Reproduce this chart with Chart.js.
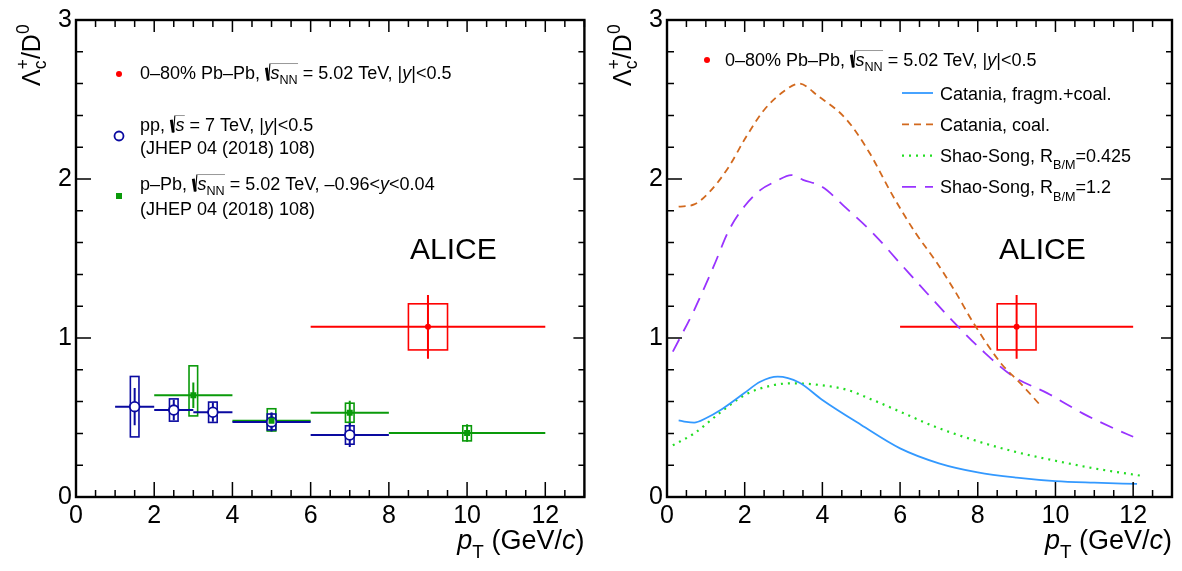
<!DOCTYPE html>
<html>
<head>
<meta charset="utf-8">
<script src="https://cdn.jsdelivr.net/npm/chart.js@4.4.1/dist/chart.umd.min.js"></script>
<style>
  body { margin: 0; background: #fff; }
  canvas { position: absolute; top: 0; }
  #left { left: 0; }
  #right { left: 591px; }
</style>
</head>
<body>
<canvas id="left" width="591" height="571"></canvas>
<canvas id="right" width="591" height="571"></canvas>
<script>
// axis tick labels
const xTicks = [0, 2, 4, 6, 8, 10, 12];
const yTicks = [0, 1, 2, 3];

// 0-80% Pb-Pb, 5.02 TeV
const pbpbX = [9];
const pbpbY = [1.07];
const pbpbXlo = [6];
const pbpbXhi = [12];
const pbpbStat = [0.2];
const pbpbSyst = [0.145];

// pp, 7 TeV (JHEP 04 (2018) 108)
const ppX = [1.5, 2.5, 3.5, 5, 7];
const ppY = [0.568, 0.547, 0.533, 0.472, 0.39];
const ppXlo = [1, 2, 3, 4, 6];
const ppXhi = [2, 3, 4, 6, 8];
const ppStat = [0.117, 0.065, 0.06, 0.06, 0.075];
const ppSyst = [0.19, 0.07, 0.064, 0.05, 0.058];

// p-Pb, 5.02 TeV
const ppbX = [3, 5, 7, 10];
const ppbY = [0.64, 0.48, 0.53, 0.403];
const ppbXlo = [2, 4, 6, 8];
const ppbXhi = [4, 6, 8, 12];
const ppbStat = [0.08, 0.05, 0.075, 0.055];
const ppbSystUp = [0.185, 0.075, 0.06, 0.045];
const ppbSystDn = [0.13, 0.065, 0.06, 0.05];

// model curves
const catFragX = [0.3, 0.5, 0.7, 1.0, 1.4, 2.0, 2.4, 2.85, 3.4, 4.0, 5.0, 6.0, 7.0, 8.0, 9.0, 10.0, 11.0, 12.1];
const catFragY = [0.482, 0.472, 0.468, 0.495, 0.55, 0.655, 0.725, 0.757, 0.72, 0.61, 0.453, 0.306, 0.212, 0.155, 0.122, 0.1, 0.09, 0.082];

const catCoalX = [0.3, 0.7, 1.1, 1.6, 2.0, 2.5, 3.0, 3.4, 3.9, 4.6, 5.2, 5.8, 6.4, 6.9, 7.4, 7.9, 8.6, 9.1, 9.6];
const catCoalY = [1.826, 1.84, 1.92, 2.08, 2.25, 2.434, 2.55, 2.6, 2.52, 2.38, 2.17, 1.9, 1.66, 1.49, 1.3, 1.09, 0.84, 0.715, 0.58];

const ssLowX = [0.15, 0.7, 1.4, 2.05, 2.75, 3.25, 3.95, 4.65, 5.3, 6.0, 6.9, 7.9, 8.95, 10.0, 11.0, 12.25];
const ssLowY = [0.325, 0.4, 0.537, 0.648, 0.704, 0.715, 0.704, 0.673, 0.61, 0.537, 0.442, 0.358, 0.285, 0.228, 0.18, 0.132];

const ssHighX = [0.15, 0.7, 1.2, 1.6, 2.0, 2.4, 2.8, 3.2, 3.5, 4.0, 4.6, 5.3, 6.0, 6.7, 7.5, 8.1, 8.9, 9.8, 10.7, 11.5, 12.0];
const ssHighY = [0.914, 1.176, 1.45, 1.68, 1.83, 1.93, 1.985, 2.025, 1.995, 1.95, 1.82, 1.66, 1.47, 1.28, 1.07, 0.925, 0.76, 0.652, 0.526, 0.432, 0.379];

const RED = '#ff0000';
const BLUE = '#0a0aa0';
const GREEN = '#0a9a0a';
const FONT = '"Liberation Sans", Arial, Helvetica, sans-serif';
const LEG = 18;

const pts = (xs, ys) => xs.map((x, i) => ({ x: x, y: ys[i] }));

// ---- rich text (sub/superscripts, sqrt) ----
function drawRich(ctx, parts, x, y, size, dry) {
  let cx = x, rootX = null, stackX = null, stackW = 0;
  ctx.save();
  ctx.fillStyle = '#000';
  ctx.strokeStyle = '#000';
  ctx.textBaseline = 'alphabetic';
  ctx.textAlign = 'left';
  for (const p of parts) {
    if (p.root) {
      if (!dry) {
        ctx.lineWidth = size * 0.16;
        ctx.beginPath();
        ctx.moveTo(cx + size * 0.07, y - size * 0.62);
        ctx.lineTo(cx + size * 0.18, y + size * 0.08);
        ctx.stroke();
        ctx.lineWidth = size * 0.06;
        ctx.beginPath();
        ctx.moveTo(cx + size * 0.19, y + size * 0.08);
        ctx.lineTo(cx + size * 0.27, y - size * 0.86);
        ctx.stroke();
      }
      cx += size * 0.3;
      rootX = cx;
      continue;
    }
    if (p.rootEnd) {
      if (!dry) {
        ctx.lineWidth = 1;
        ctx.strokeStyle = '#999';
        ctx.beginPath();
        ctx.moveTo(rootX - size * 0.03, y - size * 0.86);
        ctx.lineTo(cx + size * 0.02, y - size * 0.86);
        ctx.stroke();
        ctx.strokeStyle = '#000';
      }
      continue;
    }
    let s = size, dy = 0;
    if (p.sub) { s = size * 0.7; dy = size * (p.low || 0.25); }
    if (p.sup) { s = size * 0.7; dy = -size * 0.45; }
    ctx.font = (p.i ? 'italic ' : '') + s + 'px ' + FONT;
    const w = ctx.measureText(p.t).width;
    let drawX = cx;
    if (stackX !== null) drawX = stackX;
    if (!dry) ctx.fillText(p.t, drawX, y + dy);
    if (p.stack) { stackX = cx; stackW = w; continue; }
    if (stackX !== null) { cx = stackX + Math.max(w, stackW); stackX = null; }
    else cx += w;
  }
  ctx.restore();
  return cx - x;
}

const T = (t, o) => Object.assign({ t: t }, o || {});
const sqrtS = (nn) => nn
  ? [{ root: true }, T('s', { i: 1 }), T('NN', { sub: 1 }), { rootEnd: true }]
  : [{ root: true }, T('s', { i: 1 }), { rootEnd: true }];

const pbpbText = [T('0–80% Pb–Pb, ')].concat(sqrtS(true), [T(' = 5.02 TeV, |'), T('y', { i: 1 }), T('|<0.5')]);
const ppText = [T('pp, ')].concat(sqrtS(false), [T(' = 7 TeV, |'), T('y', { i: 1 }), T('|<0.5')]);
const ppbText = [T('p–Pb, ')].concat(sqrtS(true), [T(' = 5.02 TeV, –0.96<'), T('y', { i: 1 }), T('<0.04')]);
const refText = [T('(JHEP 04 (2018) 108)')];
const yTitle = [T('Λ'), T('c', { sub: 1, stack: 1, low: 0.22 }), T('+', { sup: 1 }), T('/D'), T('0', { sup: 1 })];
const xTitle = [T('p', { i: 1 }), T('T', { sub: 1, low: 0.35 }), T(' (GeV/'), T('c', { i: 1 }), T(')')];

// ---- markers ----
function marker(ctx, kind, x, y) {
  ctx.save();
  if (kind === 'pbpb') {
    ctx.fillStyle = RED;
    ctx.beginPath(); ctx.arc(x, y, 3, 0, 2 * Math.PI); ctx.fill();
  } else if (kind === 'pp') {
    ctx.fillStyle = '#fff'; ctx.strokeStyle = BLUE; ctx.lineWidth = 1.8;
    ctx.beginPath(); ctx.arc(x, y, 4.5, 0, 2 * Math.PI); ctx.fill(); ctx.stroke();
  } else {
    ctx.fillStyle = GREEN;
    ctx.fillRect(x - 3, y - 3, 6, 6);
  }
  ctx.restore();
}

// ---- error bars and systematic boxes ----
const errorBars = {
  id: 'errorBars',
  beforeDatasetsDraw(chart) {
    const { ctx, scales: { x, y } } = chart;
    chart.data.datasets.forEach(ds => {
      const e = ds.errors;
      if (!e) return;
      ctx.save();
      ctx.strokeStyle = ds.borderColor;
      ds.data.forEach((p, i) => {
        const px = x.getPixelForValue(p.x), py = y.getPixelForValue(p.y);
        const bx0 = x.getPixelForValue(p.x - e.boxHalf), bx1 = x.getPixelForValue(p.x + e.boxHalf);
        const by0 = y.getPixelForValue(p.y + e.systUp[i]), by1 = y.getPixelForValue(p.y - e.systDn[i]);
        ctx.lineWidth = 1.6;
        ctx.strokeRect(bx0, by0, bx1 - bx0, by1 - by0);
        ctx.lineWidth = 2;
        ctx.beginPath();
        ctx.moveTo(x.getPixelForValue(e.xlo[i]), py);
        ctx.lineTo(x.getPixelForValue(e.xhi[i]), py);
        ctx.moveTo(px, y.getPixelForValue(p.y + e.stat[i]));
        ctx.lineTo(px, y.getPixelForValue(p.y - e.stat[i]));
        ctx.stroke();
      });
      ctx.restore();
    });
  }
};

// ---- frame, ticks on all sides, titles, legend ----
const decor = {
  id: 'decor',
  afterDraw(chart, args, opts) {
    const { ctx, chartArea: a, scales: { x, y } } = chart;
    ctx.save();
    ctx.strokeStyle = '#000';
    ctx.lineWidth = 1.5;
    ctx.beginPath();
    for (let v = 0; v <= 13.001; v += 0.5) {
      const px = x.getPixelForValue(v);
      const major = Math.abs(v / 2 - Math.round(v / 2)) < 1e-6;
      ctx.moveTo(px, a.bottom); ctx.lineTo(px, a.bottom - (major ? 15 : 7));
      ctx.moveTo(px, a.top); ctx.lineTo(px, a.top + (major ? 12 : 7));
    }
    for (let v = 0; v <= 3.001; v += 0.2) {
      const py = y.getPixelForValue(v);
      const major = Math.abs(v - Math.round(v)) < 1e-6;
      ctx.moveTo(a.left, py); ctx.lineTo(a.left + (major ? 15 : 7), py);
      ctx.moveTo(a.right, py); ctx.lineTo(a.right - (major ? 11 : 6), py);
    }
    ctx.stroke();
    ctx.lineWidth = 2.4;
    ctx.strokeRect(a.left, a.top, a.right - a.left, a.bottom - a.top);
    ctx.restore();

    // axis titles
    ctx.save();
    ctx.translate(40, 86);
    ctx.rotate(-Math.PI / 2);
    drawRich(ctx, yTitle, 0, 0, 25);
    ctx.restore();
    const w = drawRich(ctx, xTitle, 0, 0, 27, true);
    drawRich(ctx, xTitle, a.right - w, 549, 27);

    // ALICE
    ctx.save();
    ctx.font = '30px ' + FONT;
    ctx.fillStyle = '#000';
    ctx.fillText('ALICE', opts.alice[0], opts.alice[1]);
    ctx.restore();

    opts.legend(ctx, chart);
  }
};

function makeScales() {
  return {
    x: {
      type: 'linear', min: 0, max: 13,
      afterBuildTicks: s => { s.ticks = xTicks.map(v => ({ value: v })); },
      afterFit: s => { s.height = 74; },
      ticks: { font: { family: FONT, size: 25 }, color: '#000', padding: 4, maxRotation: 0, autoSkip: false },
      grid: { display: false, drawTicks: false },
      border: { display: false }
    },
    y: {
      type: 'linear', min: 0, max: 3,
      afterBuildTicks: s => { s.ticks = yTicks.map(v => ({ value: v })); },
      afterFit: s => { s.width = 76; },
      ticks: { font: { family: FONT, size: 25 }, color: '#000', padding: 4 },
      grid: { display: false, drawTicks: false },
      border: { display: false }
    }
  };
}

const pbpbSet = {
  label: 'Pb-Pb', data: pts(pbpbX, pbpbY),
  pointStyle: 'circle', pointRadius: 3, backgroundColor: RED, borderColor: RED, pointBorderWidth: 0,
  errors: { xlo: pbpbXlo, xhi: pbpbXhi, stat: pbpbStat, systUp: pbpbSyst, systDn: pbpbSyst, boxHalf: 0.5 }
};

// left panel: data
new Chart(document.getElementById('left'), {
  type: 'scatter',
  data: {
    datasets: [
      Object.assign({}, pbpbSet),
      {
        label: 'p-Pb', data: pts(ppbX, ppbY),
        pointStyle: 'rect', pointRadius: 4.2, backgroundColor: GREEN, borderColor: GREEN, pointBorderWidth: 0,
        errors: { xlo: ppbXlo, xhi: ppbXhi, stat: ppbStat, systUp: ppbSystUp, systDn: ppbSystDn, boxHalf: 0.11 }
      },
      {
        label: 'pp', data: pts(ppX, ppY),
        pointStyle: 'circle', pointRadius: 4.8, backgroundColor: '#fff', borderColor: BLUE, pointBorderWidth: 1.8,
        errors: { xlo: ppXlo, xhi: ppXhi, stat: ppStat, systUp: ppSyst, systDn: ppSyst, boxHalf: 0.11 }
      }
    ]
  },
  options: {
    responsive: false, animation: false, devicePixelRatio: 1,
    layout: { padding: { left: 0, top: 20, right: 6, bottom: 0 } },
    scales: makeScales(),
    plugins: {
      legend: { display: false }, tooltip: { enabled: false },
      decor: {
        alice: [410, 259],
        legend: (ctx) => {
          marker(ctx, 'pbpb', 119, 74);
          drawRich(ctx, pbpbText, 140, 79, LEG);
          marker(ctx, 'pp', 119, 136);
          drawRich(ctx, ppText, 140, 131, LEG);
          drawRich(ctx, refText, 140, 154, LEG);
          marker(ctx, 'ppb', 119, 196);
          drawRich(ctx, ppbText, 140, 190, LEG);
          drawRich(ctx, refText, 140, 215, LEG);
        }
      }
    }
  },
  plugins: [errorBars, decor]
});

// right panel: models
const curve = (label, xs, ys, color, dash, lw) => ({
  label: label, data: pts(xs, ys), showLine: true, pointRadius: 0, fill: false,
  borderColor: color, borderWidth: lw, borderDash: dash, cubicInterpolationMode: 'monotone'
});
const modelSets = [
  curve('Catania, fragm.+coal.', catFragX, catFragY, '#3399ff', [], 1.8),
  curve('Catania, coal.', catCoalX, catCoalY, '#d2691e', [7, 5], 1.8),
  curve('Shao-Song 0.425', ssLowX, ssLowY, '#22dd22', [2, 5], 2.2),
  curve('Shao-Song 1.2', ssHighX, ssHighY, '#9933ff', [14, 9], 1.8)
];
const modelText = [
  [T('Catania, fragm.+coal.')],
  [T('Catania, coal.')],
  [T('Shao-Song, R'), T('B/M', { sub: 1, low: 0.4 }), T('=0.425')],
  [T('Shao-Song, R'), T('B/M', { sub: 1, low: 0.4 }), T('=1.2')]
];

new Chart(document.getElementById('right'), {
  type: 'scatter',
  data: { datasets: [Object.assign({}, pbpbSet)].concat(modelSets) },
  options: {
    responsive: false, animation: false, devicePixelRatio: 1,
    layout: { padding: { left: 0, top: 20, right: 10, bottom: 0 } },
    scales: makeScales(),
    plugins: {
      legend: { display: false }, tooltip: { enabled: false },
      decor: {
        alice: [408, 259],
        legend: (ctx) => {
          marker(ctx, 'pbpb', 116, 60);
          drawRich(ctx, pbpbText, 134, 66, LEG);
          modelSets.forEach((ds, i) => {
            const yy = 93 + i * 31.3;
            ctx.save();
            ctx.strokeStyle = ds.borderColor; ctx.lineWidth = ds.borderWidth; ctx.setLineDash(ds.borderDash);
            ctx.beginPath(); ctx.moveTo(311, yy); ctx.lineTo(342, yy); ctx.stroke();
            ctx.restore();
            drawRich(ctx, modelText[i], 349, yy + 6.5, LEG);
          });
        }
      }
    }
  },
  plugins: [errorBars, decor]
});
</script>
</body>
</html>
